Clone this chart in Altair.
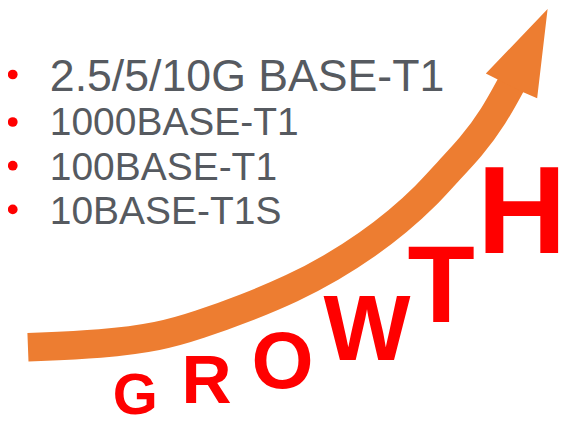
import altair as alt
import pandas as pd

# ---- data (picture pixel coordinates) ----
bullet_labels = ["2.5/5/10G BASE-T1", "1000BASE-T1", "100BASE-T1", "10BASE-T1S"]
bullet_baselines = [89, 136, 183, 229]
bullet_sizes = [47, 41, 41, 41]
bullet_dot_y = [72, 122, 168, 214]

growth_letters = ["G", "R", "O", "W", "T", "H"]
growth_x = [134, 209, 289, 378, 456, 541]
growth_baseline = [429, 418, 402, 373, 332, 260]
growth_sizes = [61, 73, 84, 97, 116, 130]

shaft_x = [21, 100, 160, 200, 250, 300, 340, 380, 410, 440, 463, 487, 511, 532]
shaft_y = [359, 356, 348, 336, 318, 297, 276, 250, 227, 200, 174, 149, 117, 78]

head_x = [568, 557, 543, 515, 503]
head_y = [3, 97, 91, 77, 71]

# ---- layout / style ----
W, H = 566, 420
k = 0.95
y0 = 2
xdom = [0, W / k]
ydom = [y0 + H / k, y0]

GRAY = "#565a60"
RED = "#ff0000"
ORANGE = "#ed7d31"
FONT = "Liberation Sans"

xs = alt.Scale(domain=xdom, nice=False, zero=False)
ys = alt.Scale(domain=ydom, nice=False, zero=False)


def X(f="x"):
    return alt.X(f"{f}:Q", scale=xs, axis=None)


def Y(f="y"):
    return alt.Y(f"{f}:Q", scale=ys, axis=None)


shaft_df = pd.DataFrame({"x": shaft_x, "y": shaft_y, "o": list(range(len(shaft_x)))})
head_df = pd.DataFrame({"x": head_x, "y": head_y, "o": list(range(len(head_x)))})
text_df = pd.DataFrame({
    "label": bullet_labels,
    "x": [44] * len(bullet_labels),
    "y": bullet_baselines,
    "fs": [s * k for s in bullet_sizes],
})
dot_df = pd.DataFrame({"x": [5] * len(bullet_dot_y), "y": bullet_dot_y})
growth_df = pd.DataFrame({
    "label": growth_letters,
    "x": growth_x,
    "y": growth_baseline,
    "fs": [s * k for s in growth_sizes],
})

shaft = alt.Chart(shaft_df).mark_line(
    color=ORANGE, strokeWidth=30 * k, strokeCap="butt", interpolate="basis"
).encode(x=X(), y=Y(), order="o:Q")

head = alt.Chart(head_df).mark_line(
    color=ORANGE, filled=True, fill=ORANGE, strokeWidth=0
).encode(x=X(), y=Y(), order="o:Q")

dots = alt.Chart(dot_df).mark_circle(color=RED, opacity=1, size=95).encode(x=X(), y=Y())

texts = alt.Chart(text_df).mark_text(
    align="left", baseline="alphabetic", font=FONT, color=GRAY
).encode(x=X(), y=Y(), text="label:N", size=alt.Size("fs:Q", scale=None, legend=None))

growth = alt.Chart(growth_df).mark_text(
    align="center", baseline="alphabetic", font=FONT, fontWeight="bold", color=RED
).encode(x=X(), y=Y(), text="label:N", size=alt.Size("fs:Q", scale=None, legend=None))

chart = alt.layer(shaft, head, dots, texts, growth).properties(
    width=W, height=H,
    autosize=alt.AutoSizeParams(type="none"),
    padding=0,
    background="white",
).configure_view(stroke=None)

chart.save("out.html", embed_options={"renderer": "svg", "actions": False})
